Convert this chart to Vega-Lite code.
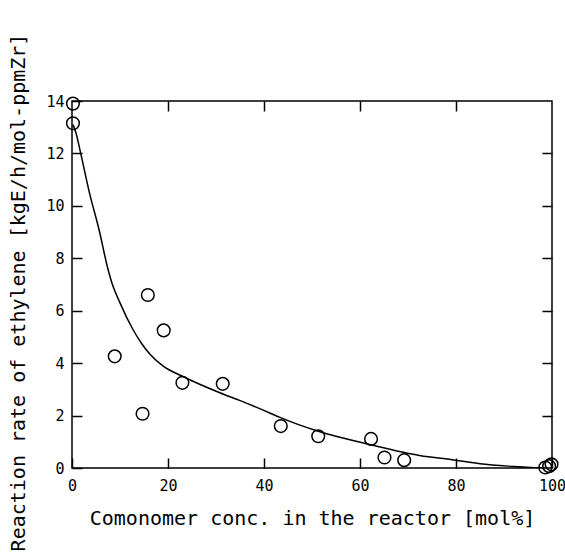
{
  "$schema": "https://vega.github.io/schema/vega-lite/v6.json",
  "autosize": "none",
  "padding": {"left": 72, "top": 101, "right": 13, "bottom": 92},
  "width": 480,
  "height": 367,
  "background": "white",
  "config": {
    "view": {"stroke": "black", "strokeWidth": 1.5},
    "axis": {
      "grid": false,
      "domain": false,
      "ticks": true,
      "tickColor": "black",
      "tickWidth": 1.5,
      "tickSize": -10,
      "labelFlush": false,
      "labelOverlap": false,
      "labelFont": "DejaVu Sans Mono",
      "labelFontSize": 15,
      "labelColor": "black",
      "titleFont": "DejaVu Sans Mono",
      "titleFontSize": 20,
      "titleFontWeight": "normal",
      "titleColor": "black"
    }
  },
  "datasets": {
    "pts": [
      {"x": 0.2, "y": 13.9},
      {"x": 0.2, "y": 13.15},
      {"x": 8.9, "y": 4.26},
      {"x": 14.7, "y": 2.07},
      {"x": 15.8, "y": 6.6},
      {"x": 19.1, "y": 5.25},
      {"x": 23.0, "y": 3.25},
      {"x": 31.4, "y": 3.21},
      {"x": 43.5, "y": 1.6},
      {"x": 51.3, "y": 1.21},
      {"x": 62.3, "y": 1.11},
      {"x": 65.1, "y": 0.4},
      {"x": 69.2, "y": 0.3},
      {"x": 98.6, "y": 0.02},
      {"x": 99.4, "y": 0.07},
      {"x": 99.9, "y": 0.14}
    ],
    "curve": [
      {"x": 0.2, "y": 13.1},
      {"x": 0.8, "y": 12.8},
      {"x": 1.7, "y": 12.1},
      {"x": 3.5, "y": 10.6},
      {"x": 5.7, "y": 9.04},
      {"x": 7.5, "y": 7.58},
      {"x": 8.3, "y": 7.07},
      {"x": 10.0, "y": 6.3},
      {"x": 12.5, "y": 5.35},
      {"x": 14.5, "y": 4.75},
      {"x": 16.3, "y": 4.33},
      {"x": 19.0, "y": 3.89},
      {"x": 23.0, "y": 3.5},
      {"x": 30.8, "y": 2.87},
      {"x": 35.3, "y": 2.55},
      {"x": 41.2, "y": 2.1},
      {"x": 43.2, "y": 1.94},
      {"x": 51.3, "y": 1.4},
      {"x": 62.0, "y": 0.9},
      {"x": 72.4, "y": 0.48},
      {"x": 79.8, "y": 0.3},
      {"x": 85.0, "y": 0.16},
      {"x": 92.0, "y": 0.06},
      {"x": 98.5, "y": 0.0}
    ]
  },
  "layer": [
    {
      "data": {"name": "curve"},
      "mark": {"type": "line", "color": "black", "strokeWidth": 1.5, "clip": true, "interpolate": "monotone"},
      "encoding": {
        "x": {
          "field": "x", "type": "quantitative",
          "scale": {"domain": [0, 100], "nice": false},
          "axis": {"orient": "top", "labels": false, "title": null, "values": [20, 40, 60, 80]}
        },
        "y": {
          "field": "y", "type": "quantitative",
          "scale": {"domain": [0, 14], "nice": false},
          "axis": {"orient": "right", "labels": false, "title": null, "values": [2, 4, 6, 8, 10, 12]}
        }
      }
    },
    {
      "data": {"name": "pts"},
      "mark": {"type": "point", "shape": "circle", "filled": false, "color": "black", "size": 160, "strokeWidth": 1.5, "opacity": 1},
      "encoding": {
        "x": {
          "field": "x", "type": "quantitative",
          "scale": {"domain": [0, 100], "nice": false},
          "axis": {
            "orient": "bottom",
            "title": "Comonomer conc. in the reactor [mol%]",
            "values": [0, 20, 40, 60, 80, 100],
            "labelPadding": 20,
            "titleX": 240, "titleY": 50, "titleBaseline": "middle", "titleAnchor": "middle"
          }
        },
        "y": {
          "field": "y", "type": "quantitative",
          "scale": {"domain": [0, 14], "nice": false},
          "axis": {
            "orient": "left",
            "title": "Reaction rate of ethylene [kgE/h/mol-ppmZr]",
            "values": [0, 2, 4, 6, 8, 10, 12, 14],
            "labelPadding": 18,
            "titleX": -54, "titleY": 191, "titleBaseline": "middle", "titleAnchor": "middle"
          }
        }
      }
    }
  ],
  "resolve": {"axis": {"x": "independent", "y": "independent"}}
}
